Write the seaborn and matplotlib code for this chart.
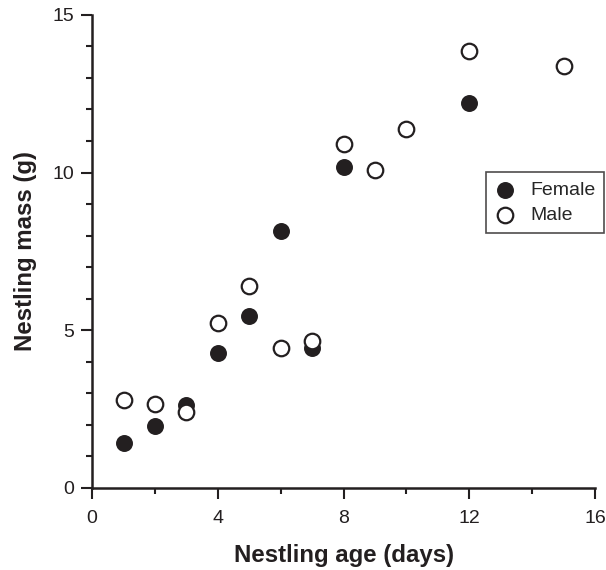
import matplotlib
matplotlib.use("Agg")
import matplotlib.pyplot as plt
import seaborn as sns
import pandas as pd
from matplotlib.ticker import MultipleLocator

sns.set_theme(style="white")
plt.rcParams['font.family'] = ['Liberation Sans', 'DejaVu Sans']

# Data
female_age = [1, 2, 3, 4, 5, 6, 7, 8, 12]
female_mass = [1.44, 1.97, 2.63, 4.27, 5.45, 8.16, 4.43, 10.18, 12.21]
male_age = [1, 2, 3, 4, 5, 6, 7, 8, 9, 10, 12, 15]
male_mass = [2.79, 2.67, 2.40, 5.24, 6.40, 4.45, 4.67, 10.9, 10.08, 11.37, 13.86, 13.39]

female = pd.DataFrame({"age": female_age, "mass": female_mass})
male = pd.DataFrame({"age": male_age, "mass": male_mass})

fig = plt.figure(figsize=(6.06, 5.7), dpi=100)
ax = fig.add_axes([0.152, 0.144, 0.83, 0.83])

sns.scatterplot(data=female, x="age", y="mass", ax=ax, s=125, color="#231f20",
                edgecolor="#231f20", linewidth=1.0, label="Female", zorder=3)
sns.scatterplot(data=male, x="age", y="mass", ax=ax, s=125, facecolor="white",
                edgecolor="#231f20", linewidth=1.6, label="Male", zorder=4)

ax.set_xlim(0, 16)
ax.set_ylim(0, 15)
ax.xaxis.set_major_locator(MultipleLocator(4))
ax.xaxis.set_minor_locator(MultipleLocator(2))
ax.yaxis.set_major_locator(MultipleLocator(5))
ax.yaxis.set_minor_locator(MultipleLocator(1))

for side in ["top", "right"]:
    ax.spines[side].set_visible(False)
for side in ["left", "bottom"]:
    ax.spines[side].set_color("#231f20")
    ax.spines[side].set_linewidth(1.8)

ax.tick_params(which="major", direction="out", length=8, width=1.5, color="#231f20",
               labelsize=14, labelcolor="#231f20", left=True, bottom=True, pad=5)
ax.tick_params(which="minor", direction="out", length=4, width=1.5, color="#231f20",
               left=True, bottom=True)
ax.tick_params(axis="x", pad=8)

ax.set_xlabel("Nestling age (days)", fontsize=17.3, fontweight="bold", color="#231f20", labelpad=12)
ax.set_ylabel("Nestling mass (g)", fontsize=17.3, fontweight="bold", color="#231f20", labelpad=11)

leg = ax.legend(loc="upper left", bbox_to_anchor=(0.784, 0.667), frameon=True, fancybox=False,
                fontsize=14, handletextpad=0.8, borderpad=0.45, labelspacing=0.4,
                handlelength=1.0, borderaxespad=0)
leg.get_frame().set_edgecolor("#231f20")
leg.get_frame().set_linewidth(1.2)

fig.savefig("out.png", dpi=100)
